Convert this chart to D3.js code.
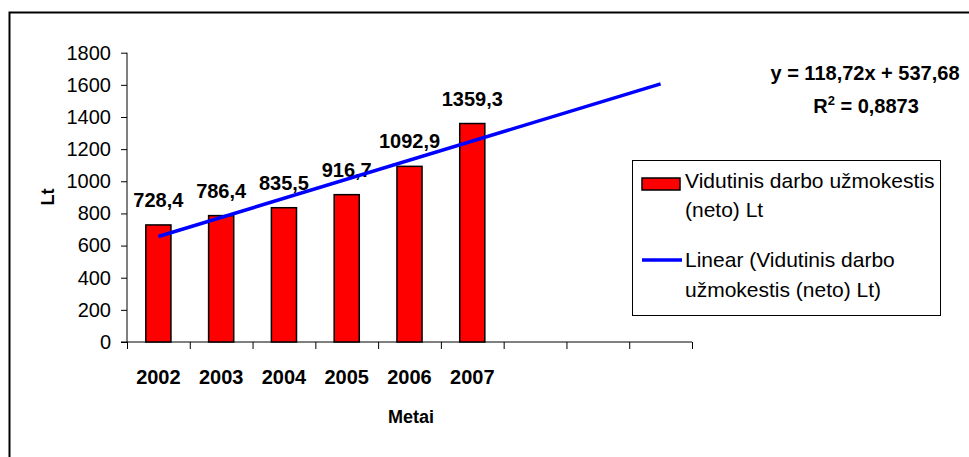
<!DOCTYPE html>
<html>
<head>
<meta charset="utf-8">
<script src="https://cdn.jsdelivr.net/npm/d3@7"></script>
<style>
  body { margin: 0; background: #fff; }
  svg { display: block; font-family: "Liberation Sans", Arial, sans-serif; }
</style>
</head>
<body>
<script>
// average net wage per year, with linear trendline forecast 3 periods ahead

const years = ["2002", "2003", "2004", "2005", "2006", "2007"];
const wages = [728.4, 786.4, 835.5, 916.7, 1092.9, 1359.3];
const yTicks = [0, 200, 400, 600, 800, 1000, 1200, 1400, 1600, 1800];
const forecastPeriods = 3;
const seriesName = ["Vidutinis darbo užmokestis", "(neto) Lt"];
const trendName = ["Linear (Vidutinis darbo", "užmokestis (neto) Lt)"];

const width = 969, height = 457;
const plot = {left: 127, right: 692, top: 52.7, bottom: 342};

const svg = d3.select("body").append("svg")
    .attr("width", width)
    .attr("height", height);

// chart border (runs off the right and bottom edge)
svg.append("rect")
    .attr("x", 9.5).attr("y", 12.5)
    .attr("width", 980).attr("height", 480)
    .attr("fill", "none")
    .attr("stroke", "#000")
    .attr("stroke-width", 2);

const nSlots = years.length + forecastPeriods;
const slots = years.concat(d3.range(forecastPeriods).map(i => "f" + i));

let x = d3.scaleBand()
    .domain(slots)
    .range([plot.left, plot.right])
    .paddingInner(0.6)
    .paddingOuter(0.3);

// index scale for boundaries / trendline (slot i centre = i - 0.5)
let xi = d3.scaleLinear()
    .domain([0, nSlots])
    .range([plot.left, plot.right]);

let y = d3.scaleLinear()
    .domain([0, 1800])
    .range([plot.bottom, plot.top]);

// y axis
let yAxis = svg.append("g")
    .attr("transform", "translate(" + plot.left + ",0)")
    .call(d3.axisLeft(y).tickValues(yTicks).tickSize(6).tickPadding(10).tickFormat(d3.format("d")));
yAxis.select(".domain").attr("d", "M0," + y(0) + "V" + y(1800));
yAxis.selectAll("text")
    .style("font-size", "20px")
    .style("font-family", "Liberation Sans, Arial, sans-serif")
    .attr("fill", "#000");

// x axis, ticks on category boundaries
let xAxis = svg.append("g")
    .attr("transform", "translate(0," + plot.bottom + ")")
    .call(d3.axisBottom(xi).tickValues(d3.range(nSlots + 1)).tickSize(7).tickFormat(""));
xAxis.select(".domain").attr("d", "M" + (plot.left - 6) + ",0H" + plot.right);

svg.selectAll(".year")
    .data(years)
    .enter()
    .append("text")
    .attr("class", "year")
    .attr("x", d => x(d) + x.bandwidth() / 2)
    .attr("y", 384)
    .attr("text-anchor", "middle")
    .style("font-size", "20px")
    .style("font-weight", "bold")
    .text(d => d);

// bars
svg.selectAll(".bar")
    .data(wages)
    .enter()
    .append("rect")
    .attr("class", "bar")
    .attr("x", (d, i) => x(years[i]))
    .attr("y", d => y(d))
    .attr("width", x.bandwidth())
    .attr("height", d => y(0) - y(d))
    .attr("fill", "#ff0000")
    .attr("stroke", "#000")
    .attr("stroke-width", 1.5);

svg.selectAll(".lbl")
    .data(wages)
    .enter()
    .append("text")
    .attr("class", "lbl")
    .attr("x", (d, i) => x(years[i]) + x.bandwidth() / 2)
    .attr("y", d => y(d) - 18)
    .attr("text-anchor", "middle")
    .style("font-size", "20px")
    .style("font-weight", "bold")
    .text(d => d3.format(".1f")(d).replace(".", ","));

// least squares trendline
let xs = wages.map((d, i) => i + 1);
let mx = d3.mean(xs), my = d3.mean(wages);
let sxy = d3.sum(xs, (v, i) => (v - mx) * (wages[i] - my));
let sxx = d3.sum(xs, v => (v - mx) * (v - mx));
let slope = sxy / sxx;
let intercept = my - slope * mx;
let ssTot = d3.sum(wages, v => (v - my) * (v - my));
let ssRes = d3.sum(wages, (v, i) => Math.pow(v - (slope * xs[i] + intercept), 2));
let r2 = 1 - ssRes / ssTot;

let trendX = [1, nSlots];
let line = d3.line()
    .x(d => xi(d - 0.5))
    .y(d => y(slope * d + intercept));

svg.append("path")
    .datum(trendX)
    .attr("d", line)
    .attr("fill", "none")
    .attr("stroke", "#0000ff")
    .attr("stroke-width", 3.5);

const comma = (v, f) => d3.format(f)(v).replace(".", ",");

svg.append("text")
    .attr("x", 865).attr("y", 80)
    .attr("text-anchor", "middle")
    .style("font-size", "20px")
    .style("font-weight", "bold")
    .text("y = " + comma(slope, ".2f") + "x + " + comma(intercept, ".2f"));

let r2t = svg.append("text")
    .attr("x", 866).attr("y", 113)
    .attr("text-anchor", "middle")
    .style("font-size", "20px")
    .style("font-weight", "bold");
r2t.append("tspan").text("R");
r2t.append("tspan").attr("dy", -8).style("font-size", "13px").text("2");
r2t.append("tspan").attr("dy", 8).text(" = " + comma(r2, ".4f"));

// axis titles
svg.append("text")
    .attr("x", 411).attr("y", 423)
    .attr("text-anchor", "middle")
    .style("font-size", "18px")
    .style("font-weight", "bold")
    .text("Metai");

svg.append("text")
    .attr("transform", "translate(54,197) rotate(-90)")
    .attr("text-anchor", "middle")
    .style("font-size", "18px")
    .style("font-weight", "bold")
    .text("Lt");

// legend
let lg = svg.append("g");
lg.append("rect")
    .attr("x", 632.5).attr("y", 160.5)
    .attr("width", 308).attr("height", 155)
    .attr("fill", "#fff")
    .attr("stroke", "#000")
    .attr("stroke-width", 1);
lg.append("rect")
    .attr("x", 642).attr("y", 178)
    .attr("width", 38).attr("height", 12)
    .attr("fill", "#ff0000")
    .attr("stroke", "#000")
    .attr("stroke-width", 1.5);
lg.append("line")
    .attr("x1", 642).attr("x2", 682)
    .attr("y1", 260).attr("y2", 260)
    .attr("stroke", "#0000ff")
    .attr("stroke-width", 3.5);

lg.selectAll(".lt1")
    .data(seriesName)
    .enter()
    .append("text")
    .attr("x", 685)
    .attr("y", (d, i) => 188 + i * 29)
    .style("font-size", "21px")
    .text(d => d);
lg.selectAll(".lt2")
    .data(trendName)
    .enter()
    .append("text")
    .attr("x", 685)
    .attr("y", (d, i) => 267 + i * 30)
    .style("font-size", "21px")
    .text(d => d);
</script>
</body>
</html>
